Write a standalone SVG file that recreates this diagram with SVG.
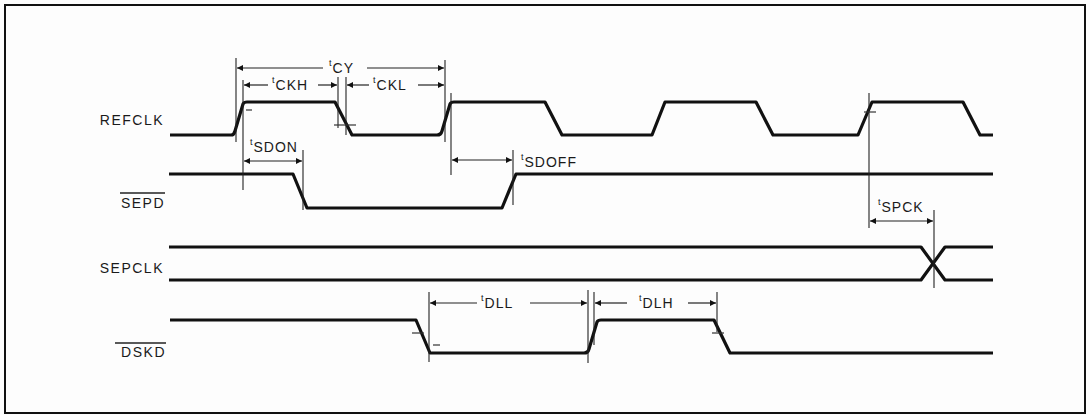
<svg xmlns="http://www.w3.org/2000/svg" width="1090" height="415" viewBox="0 0 1090 415">
<defs>
<marker id="ah" viewBox="0 0 10 10" refX="10" refY="5" markerWidth="9" markerHeight="6" markerUnits="userSpaceOnUse" orient="auto-start-reverse"><path d="M0,0 L10,5 L0,10 z" fill="#111"/></marker>
</defs>
<style>
.wave{fill:none;stroke:#111;stroke-width:3.2;stroke-linejoin:round}
.ref{stroke:#222;stroke-width:1.1;fill:none}
.dim{stroke:#222;stroke-width:1.2;fill:none}
.bar{stroke:#222;stroke-width:1.3}
.tick{stroke:#333;stroke-width:1.2;fill:none}
.lbl{font-family:"Liberation Sans",Arial,sans-serif;font-size:14px;fill:#1a1a1a;letter-spacing:1.5px}
.tl{font-family:"Liberation Sans",Arial,sans-serif;font-size:14px;fill:#1a1a1a;letter-spacing:1px}
.ts{font-size:9px}
</style>
<rect x="0" y="0" width="1090" height="415" fill="#fdfdfd"/>
<rect x="5" y="5" width="1080" height="408" fill="none" stroke="#111" stroke-width="2"/>

<g id="refclk">
<path class="wave" d="M170,135 H231 Q234,135 235,131 L243,104 Q244,102 247,102 H335 L352,135 H437 Q441,135 442,131 L450,104 Q451,102 454,102 H545 L562,135 H652 L665,102 H756 L773,135 H858 L872,102 H963 L980,135 H993"/>
<text class="lbl" x="164" y="125" text-anchor="end">REFCLK</text>
</g>
<g id="sepd">
<path class="wave" d="M169,174 H293 L307,208 H502 L516,174 H993"/>
<text class="lbl" x="165" y="208" text-anchor="end">SEPD</text>
<line class="bar" x1="120" y1="193" x2="165" y2="193"/>
</g>
<g id="sepclk">
<path class="wave" d="M169,247 H921 L945,280 H993"/>
<path class="wave" d="M169,280 H921 L945,247 H993"/>
<text class="lbl" x="164" y="273" text-anchor="end">SEPCLK</text>
</g>
<g id="dskd">
<path class="wave" d="M170,320 H416 L430,353 H584 Q588,353 589,349 L597,322 Q598,320 601,320 H714 L730,353 H993"/>
<text class="lbl" x="166" y="357" text-anchor="end">DSKD</text>
<line class="bar" x1="115" y1="343" x2="166" y2="343"/>
</g>

<g id="connectors">
<line class="ref" x1="236" y1="58" x2="236" y2="142"/>
<line class="ref" x1="243" y1="80" x2="243" y2="190"/>
<line class="ref" x1="338" y1="77" x2="338" y2="128"/>
<line class="ref" x1="346" y1="77" x2="346" y2="135"/>
<line class="ref" x1="445" y1="60" x2="445" y2="142"/>
<line class="ref" x1="451" y1="93" x2="451" y2="175"/>
<line class="ref" x1="303" y1="150" x2="303" y2="210"/>
<line class="ref" x1="513" y1="150" x2="513" y2="205"/>
<line class="ref" x1="869" y1="93" x2="869" y2="228"/>
<line class="ref" x1="934" y1="210" x2="934" y2="288"/>
<line class="ref" x1="429" y1="292" x2="429" y2="362"/>
<line class="ref" x1="588" y1="290" x2="588" y2="363"/>
<line class="ref" x1="594" y1="292" x2="594" y2="345"/>
<line class="ref" x1="717" y1="292" x2="717" y2="332"/>

<line class="dim" x1="323" y1="68" x2="237" y2="68" marker-end="url(#ah)"/>
<line class="dim" x1="367" y1="68" x2="444" y2="68" marker-end="url(#ah)"/>
<line class="dim" x1="268" y1="85" x2="244" y2="85" marker-end="url(#ah)"/>
<line class="dim" x1="318" y1="85" x2="337" y2="85" marker-end="url(#ah)"/>
<line class="dim" x1="369" y1="85" x2="347" y2="85" marker-end="url(#ah)"/>
<line class="dim" x1="418" y1="85" x2="444" y2="85" marker-end="url(#ah)"/>
<line class="dim" x1="244" y1="161" x2="302" y2="161" marker-start="url(#ah)" marker-end="url(#ah)"/>
<line class="dim" x1="452" y1="160" x2="512" y2="160" marker-start="url(#ah)" marker-end="url(#ah)"/>
<line class="dim" x1="870" y1="221" x2="933" y2="221" marker-start="url(#ah)" marker-end="url(#ah)"/>
<line class="dim" x1="477" y1="303" x2="430" y2="303" marker-end="url(#ah)"/>
<line class="dim" x1="530" y1="303" x2="587" y2="303" marker-end="url(#ah)"/>
<line class="dim" x1="627" y1="303" x2="595" y2="303" marker-end="url(#ah)"/>
<line class="dim" x1="688" y1="303" x2="716" y2="303" marker-end="url(#ah)"/>

<line class="tick" x1="334" y1="125" x2="356" y2="125"/>
<line class="tick" x1="864" y1="112" x2="876" y2="112"/>
<line class="tick" x1="712" y1="333" x2="724" y2="333"/>
<line class="tick" x1="412" y1="333" x2="424" y2="333"/>
<line class="tick" x1="246" y1="110" x2="252" y2="110"/>
<line class="tick" x1="433" y1="345" x2="440" y2="345"/>
</g>

<g id="labels">
<text class="tl" x="329" y="73"><tspan class="ts" dy="-7">t</tspan><tspan dy="7">CY</tspan></text>
<text class="tl" x="272" y="90"><tspan class="ts" dy="-7">t</tspan><tspan dy="7">CKH</tspan></text>
<text class="tl" x="373" y="90"><tspan class="ts" dy="-7">t</tspan><tspan dy="7">CKL</tspan></text>
<text class="tl" x="250" y="152"><tspan class="ts" dy="-7">t</tspan><tspan dy="7">SDON</tspan></text>
<text class="tl" x="521" y="167"><tspan class="ts" dy="-7">t</tspan><tspan dy="7">SDOFF</tspan></text>
<text class="tl" x="878" y="212"><tspan class="ts" dy="-7">t</tspan><tspan dy="7">SPCK</tspan></text>
<text class="tl" x="481" y="308"><tspan class="ts" dy="-7">t</tspan><tspan dy="7">DLL</tspan></text>
<text class="tl" x="639" y="308"><tspan class="ts" dy="-7">t</tspan><tspan dy="7">DLH</tspan></text>
</g>
</svg>
